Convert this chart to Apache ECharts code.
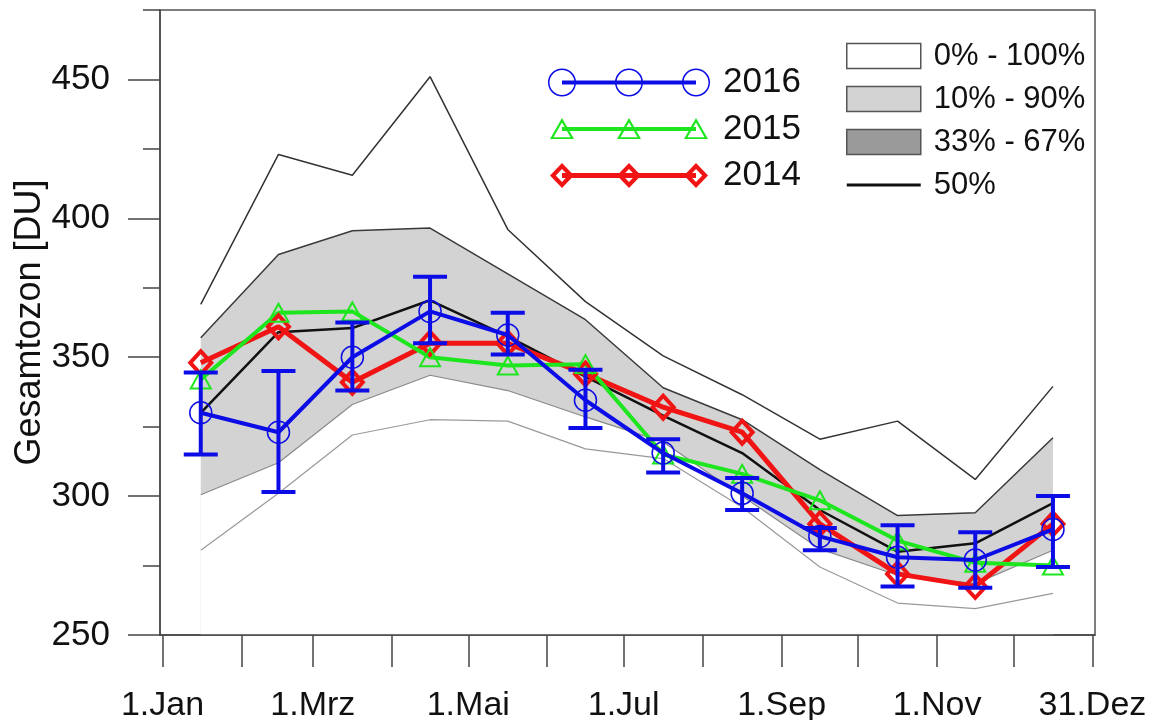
<!DOCTYPE html>
<html>
<head>
<meta charset="utf-8">
<title>Gesamtozon</title>
<script src="https://cdn.jsdelivr.net/npm/echarts@6/dist/echarts.min.js"></script>
<style>
html, body { margin: 0; padding: 0; background: #fff; }
#main { width: 1157px; height: 720px; }
</style>
</head>
<body>
<div id="main"></div>
<script>
// Tag im Jahr, Monatsmitte
var days = [15, 45.5, 74.5, 105, 135.5, 166, 196.5, 227.5, 258, 288.5, 319, 349.5]
var monthStarts = [0, 31, 59, 90, 120, 151, 181, 212, 243, 273, 304, 334, 365]
var labelDays = [0, 59, 120, 181, 243, 304, 365]
var labelNames = ['1.Jan', '1.Mrz', '1.Mai', '1.Jul', '1.Sep', '1.Nov', '31.Dez']
var yMajor = [250, 300, 350, 400, 450]
var yMinor = [275, 325, 375, 425, 475]

// Klimatologie (Perzentile)
var p100 = [369, 423, 415.5, 451, 396, 370, 350.5, 336.5, 320.5, 327, 306, 339.5]
var p90 = [357, 387, 395.5, 396.5, 380, 363.5, 339, 327.5, 309.5, 293, 294, 321]
var p50 = [330, 359, 360.5, 370.5, 357.5, 343, 329, 315.5, 295, 280, 283, 297.5]
var p10 = [300.5, 312, 333, 343.5, 338, 328.5, 319.5, 300, 281, 271.5, 268.5, 280.5]
var p0 = [280.5, 301, 322, 327.5, 327, 317, 313.5, 296, 274.5, 261.5, 259.5, 265]

// Jahre
var y2016 = [330, 323, 350, 366.5, 358, 334.5, 315.5, 301, 285.5, 278, 277, 288]
var y2016lo = [315, 301.5, 338, 355, 351, 324.5, 308.5, 295, 280.5, 267.5, 267, 274.5]
var y2016hi = [344.5, 345, 362.5, 379, 366, 345.5, 320.5, 306.5, 288.5, 289.5, 287, 300]
var y2015 = [342, 366, 366.5, 350, 347, 347.5, 315, 308, 298.5, 284, 276, 275]
var y2014 = [348, 361, 341, 355, 355, 344, 332, 323, 290, 272, 267.5, 290]

var blue = '#0c0ce6'
var green = '#1ee61e'
var red = '#f01414'
var font = 'Liberation Sans, Arial, sans-serif'

function pts (vals) {
  return vals.map(function (v, i) { return [days[i], v] })
}

// legend icons: line with three hollow markers
var iconCx = [14, 81, 148]
function iconCircle () {
  var s = 'M14 12 L148 12 L148 16 L14 16 Z '
  iconCx.forEach(function (c) {
    s += 'M' + (c - 14) + ' 14 A14 14 0 1 1 ' + (c + 14) + ' 14 A14 14 0 1 1 ' + (c - 14) + ' 14 Z '
    s += 'M' + (c - 12.5) + ' 14 A12.5 12.5 0 1 0 ' + (c + 12.5) + ' 14 A12.5 12.5 0 1 0 ' + (c - 12.5) + ' 14 Z '
  })
  return 'path://' + s
}
function iconTriangle () {
  var s = 'M0 0 L0.01 0 Z M162 28 L161.99 28 Z M14 12 L148 12 L148 16 L14 16 Z '
  iconCx.forEach(function (c) {
    s += 'M' + c + ' 3 L' + (c + 12) + ' 24 L' + (c - 12) + ' 24 Z '
    s += 'M' + c + ' 7.5 L' + (c - 8.5) + ' 22.2 L' + (c + 8.5) + ' 22.2 Z '
  })
  return 'path://' + s
}
function iconDiamond () {
  var s = 'M0 0 L0.01 0 Z M162 28 L161.99 28 Z M14 11.5 L148 11.5 L148 16.5 L14 16.5 Z '
  iconCx.forEach(function (c) {
    s += 'M' + c + ' 1.5 L' + (c + 12) + ' 14 L' + c + ' 26.5 L' + (c - 12) + ' 14 Z '
    s += 'M' + c + ' 7.5 L' + (c - 6.2) + ' 14 L' + c + ' 20.5 L' + (c + 6.2) + ' 14 Z '
  })
  return 'path://' + s
}

var errData = days.map(function (d, i) { return [d, y2016lo[i], y2016hi[i]] })

var chart = echarts.init(document.getElementById('main'))
chart.setOption({
  animation: false,
  textStyle: { fontFamily: font },
  grid: {
    left: 160,
    right: 62,
    top: 10,
    bottom: 85,
    outerBoundsMode: 'none',
    show: true,
    borderColor: '#555',
    borderWidth: 1.5,
    backgroundColor: 'transparent'
  },
  legend: [
    {
      left: 548,
      top: 65,
      orient: 'vertical',
      itemWidth: 162,
      itemHeight: 28,
      itemGap: 11.5,
      padding: 0,
      selectedMode: false,
      symbolKeepAspect: true,
      textStyle: { fontSize: 35, color: '#111', lineHeight: 28, padding: [0, 0, 0, 8], fontFamily: font },
      data: [
        { name: '2016', icon: iconCircle(), itemStyle: { color: blue, borderWidth: 0 } },
        { name: '2015', icon: iconTriangle(), itemStyle: { color: green, borderWidth: 0 } },
        { name: '2014', icon: iconDiamond(), itemStyle: { color: red, borderWidth: 0 } }
      ]
    },
    {
      left: 846,
      top: 40.5,
      orient: 'vertical',
      itemWidth: 74,
      itemHeight: 25,
      itemGap: 12,
      padding: 0,
      selectedMode: false,
      symbolKeepAspect: true,
      textStyle: { fontSize: 31, color: '#111', lineHeight: 25, padding: [0, 0, 0, 8], fontFamily: font },
      data: [
        { name: '0% - 100%', icon: 'rect', itemStyle: { color: '#fff', borderColor: '#555', borderWidth: 1.5 } },
        { name: '10% - 90%', icon: 'rect', itemStyle: { color: '#d3d3d3', borderColor: '#555', borderWidth: 1.5 } },
        { name: '33% - 67%', icon: 'rect', itemStyle: { color: '#9a9a9a', borderColor: '#555', borderWidth: 1.5 } },
        { name: '50%', icon: 'path://M0 0 L74 0 L74 3 L0 3 Z', itemStyle: { color: '#111', borderWidth: 0 } }
      ]
    }
  ],
  xAxis: {
    type: 'value',
    min: -1,
    max: 366,
    z: 5,
    splitLine: { show: false },
    axisLine: { onZero: false, lineStyle: { color: '#444', width: 1.5 } },
    axisTick: { customValues: monthStarts, length: 32, lineStyle: { color: '#444', width: 1.5 } },
    axisLabel: {
      customValues: labelDays,
      formatter: function (v) { return labelNames[labelDays.indexOf(v)] },
      fontSize: 34,
      margin: 54,
      color: '#111',
      fontFamily: font
    }
  },
  yAxis: [
    {
      type: 'value',
      position: 'left',
      min: 250,
      max: 475,
      z: 5,
      name: 'Gesamtozon [DU]',
      nameLocation: 'middle',
      nameGap: 112,
      nameMoveOverlap: false,
      nameTextStyle: { fontSize: 36, color: '#111', fontFamily: font },
      splitLine: { show: false },
      axisLine: { show: true, onZero: false, lineStyle: { color: '#444', width: 1.5 } },
      axisTick: { customValues: yMajor, length: 32, lineStyle: { color: '#444', width: 1.5 } },
      axisLabel: { customValues: yMajor, fontSize: 35, margin: 50, color: '#111', fontFamily: font }
    },
    {
      type: 'value',
      position: 'left',
      min: 250,
      max: 475,
      splitLine: { show: false },
      axisLine: { show: false, onZero: false },
      axisTick: { customValues: yMinor, length: 17, lineStyle: { color: '#444', width: 1.5 } },
      axisLabel: { show: false }
    }
  ],
  series: [
    {
      name: '10% - 90%',
      type: 'line',
      z: 1,
      data: pts(p90),
      symbol: 'none',
      lineStyle: { color: '#3a3a3a', width: 1.5 },
      areaStyle: { color: '#d3d3d3', opacity: 1, origin: 'start' }
    },
    {
      name: '10% - 90%',
      type: 'line',
      z: 1,
      data: pts(p10),
      symbol: 'none',
      lineStyle: { color: '#8a8a8a', width: 1.2 },
      areaStyle: { color: '#fff', opacity: 1, origin: 'start' }
    },
    {
      name: '33% - 67%',
      type: 'line',
      data: [],
      symbol: 'none'
    },
    {
      name: '0% - 100%',
      type: 'line',
      z: 2,
      data: pts(p100),
      symbol: 'none',
      lineStyle: { color: '#333', width: 1.5 }
    },
    {
      name: '0% - 100%',
      type: 'line',
      z: 2,
      data: pts(p0),
      symbol: 'none',
      lineStyle: { color: '#999', width: 1.2 }
    },
    {
      name: '50%',
      type: 'line',
      z: 2,
      data: pts(p50),
      symbol: 'none',
      lineStyle: { color: '#111', width: 2.5 }
    },
    {
      name: '2014',
      type: 'line',
      z: 3,
      data: pts(y2014),
      symbol: 'diamond',
      symbolSize: [21, 23],
      lineStyle: { color: red, width: 5 },
      itemStyle: { color: 'rgba(0,0,0,0)', borderColor: red, borderWidth: 4 }
    },
    {
      name: '2015',
      type: 'line',
      z: 3,
      data: pts(y2015),
      symbol: 'triangle',
      symbolSize: [20, 18],
      lineStyle: { color: green, width: 4 },
      itemStyle: { color: 'rgba(0,0,0,0)', borderColor: green, borderWidth: 2 }
    },
    {
      name: 'Fehler 2016',
      type: 'custom',
      z: 4,
      data: errData,
      encode: { x: 0, y: [1, 2] },
      renderItem: function (params, api) {
        var x = api.value(0)
        var lo = api.coord([x, api.value(1)])
        var hi = api.coord([x, api.value(2)])
        var w = 17
        var st = { stroke: blue, lineWidth: 4 }
        return {
          type: 'group',
          children: [
            { type: 'line', shape: { x1: lo[0], y1: lo[1], x2: hi[0], y2: hi[1] }, style: st },
            { type: 'line', shape: { x1: lo[0] - w, y1: lo[1], x2: lo[0] + w, y2: lo[1] }, style: st },
            { type: 'line', shape: { x1: hi[0] - w, y1: hi[1], x2: hi[0] + w, y2: hi[1] }, style: st }
          ]
        }
      }
    },
    {
      name: '2016',
      type: 'line',
      z: 4,
      data: pts(y2016),
      symbol: 'circle',
      symbolSize: 22,
      lineStyle: { color: blue, width: 4 },
      itemStyle: { color: 'rgba(0,0,0,0)', borderColor: blue, borderWidth: 1.5 }
    }
  ]
})
</script>
</body>
</html>
